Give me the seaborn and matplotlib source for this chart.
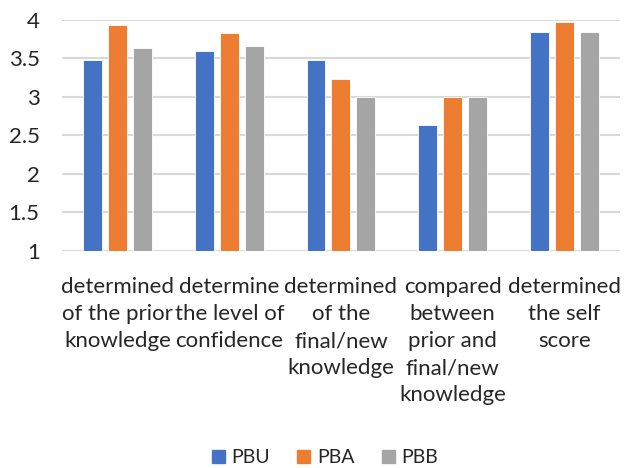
import pandas as pd
import seaborn as sns
import matplotlib.pyplot as plt

# chart values
categories = ['determined\nof the prior\nknowledge',
              'determine\nthe level of\nconfidence',
              'determined\nof the\nfinal/new\nknowledge',
              'compared\nbetween\nprior and\nfinal/new\nknowledge',
              'determined\nthe self\nscore']
groups = ['PBU', 'PBA', 'PBB']
pbu = [3.48, 3.60, 3.48, 2.63, 3.84]
pba = [3.93, 3.83, 3.23, 3.00, 3.97]
pbb = [3.64, 3.66, 3.00, 3.00, 3.84]
colors = ['#4472C4', '#ED7D31', '#A5A5A5']

rows = []
for g, vals in zip(groups, [pbu, pba, pbb]):
    for c, v in zip(categories, vals):
        rows.append({'cat': c, 'grp': g, 'val': v})
df = pd.DataFrame(rows)

sns.set_style('white')
plt.rcParams['font.family'] = ['Lato', 'DejaVu Sans']
txt = '#262626'

fig = plt.figure(figsize=(6.25, 4.68), dpi=100)
ax = fig.add_axes([0.099, 0.4637, 0.893, 0.4936])
sns.barplot(data=df, x='cat', y='val', hue='grp', palette=colors,
            saturation=1, width=0.67, gap=0.24, ax=ax, edgecolor='white',
            linewidth=0.6, legend=False)

ax.set_ylim(1, 4)
ax.set_yticks([1, 1.5, 2, 2.5, 3, 3.5, 4])
ax.set_yticklabels(['1', '1.5', '2', '2.5', '3', '3.5', '4'])
ax.yaxis.grid(True, color='#D9D9D9', linewidth=1.5)
ax.set_axisbelow(True)
for s in ax.spines.values():
    s.set_visible(False)
ax.tick_params(axis='y', length=0, pad=16, labelsize=16, labelcolor=txt)
ax.tick_params(axis='x', length=0, pad=19, labelsize=16, labelcolor=txt)
for lab in ax.get_xticklabels():
    lab.set_linespacing(1.43)
    lab.set_verticalalignment('top')
ax.set_xlabel('')
ax.set_ylabel('')

handles = [plt.Rectangle((0, 0), 1, 1, color=c) for c in colors]
fig.legend(handles, groups, loc='center', bbox_to_anchor=(0.52, 0.022),
           ncol=3, frameon=False, fontsize=14, handlelength=0.67,
           handleheight=0.67, handletextpad=0.35, columnspacing=1.4,
           labelcolor=txt)

fig.savefig('out.png', dpi=100)
